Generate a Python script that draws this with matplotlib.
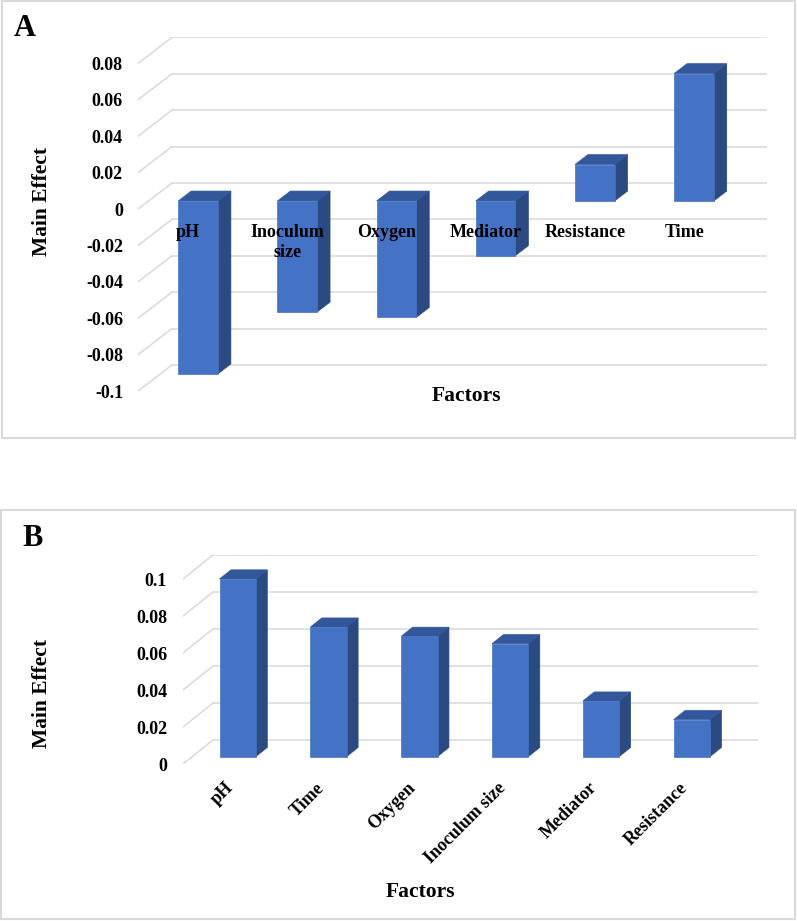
## Main effect plots (A: signed effects, B: absolute effects sorted), drawn as Excel-style 3D columns

import matplotlib.pyplot as plt
from matplotlib.patches import Polygon, Rectangle

plt.rcParams['font.family'] = ['Liberation Serif', 'DejaVu Serif']
plt.rcParams['font.weight'] = 'bold'

## Data
factors_a = ['pH', 'Inoculum\nsize', 'Oxygen', 'Mediator', 'Resistance', 'Time']
effects_a = [-0.095, -0.061, -0.064, -0.030, 0.020, 0.070]
ticks_a = [0.08, 0.06, 0.04, 0.02, 0, -0.02, -0.04, -0.06, -0.08, -0.1]

factors_b = ['pH', 'Time', 'Oxygen', 'Inoculum size', 'Mediator', 'Resistance']
effects_b = [0.096, 0.070, 0.065, 0.061, 0.030, 0.020]
ticks_b = [0.1, 0.08, 0.06, 0.04, 0.02, 0]

FRONT = '#4472C4'
TOP = '#32589B'
SIDE = '#2B4A82'
GRID = '#D9D9D9'

W, H = 797, 921
fig = plt.figure(figsize=(W / 100, H / 100), dpi=100)


def px_axes(x0, y0, x1, y1):
    # axes from pixel box (top-left origin)
    return fig.add_axes([x0 / W, 1 - y1 / H, (x1 - x0) / W, (y1 - y0) / H])


def column_chart(ax, values, ticks, kx, ky, ymin, ymax, pad):
    n = len(values)
    ax.set_xlim(-0.5, n - 0.5 + kx)
    ax.set_ylim(ymin, ymax + ky)
    for s in ax.spines.values():
        s.set_visible(False)
    ax.set_xticks([])
    ax.set_yticks(ticks)
    ax.set_yticklabels([f'{t:g}' for t in ticks], fontsize=13)
    ax.tick_params(axis='y', length=0, pad=pad)

    # back wall and side wall gridlines
    for t in ticks:
        ax.plot([-0.5 + kx, n - 0.5 + kx], [t + ky, t + ky], color=GRID, lw=1.1, zorder=1)
        ax.plot([-0.5, -0.5 + kx], [t, t + ky], color=GRID, lw=1.1, zorder=1)

    # columns sit in the middle of the depth
    f, b, w = 0.31, 0.69, 0.4
    xs = list(range(n))
    ax.bar([x + f * kx for x in xs], values, width=w, bottom=f * ky,
           color=FRONT, zorder=3, edgecolor=FRONT, lw=0.5)
    for x, v in zip(xs, values):
        lo, hi = min(v, 0), max(v, 0)
        xr = x + w / 2
        xl = x - w / 2
        side = [(xr + f * kx, lo + f * ky), (xr + f * kx, hi + f * ky),
                (xr + b * kx, hi + b * ky), (xr + b * kx, lo + b * ky)]
        top = [(xl + f * kx, hi + f * ky), (xr + f * kx, hi + f * ky),
               (xr + b * kx, hi + b * ky), (xl + b * kx, hi + b * ky)]
        ax.add_patch(Polygon(side, closed=True, facecolor=SIDE, edgecolor=SIDE, lw=0.5, zorder=2))
        ax.add_patch(Polygon(top, closed=True, facecolor=TOP, edgecolor=TOP, lw=0.5, zorder=2))


## Panel A
axA = px_axes(138, 37.4, 767, 391)
column_chart(axA, effects_a, ticks_a, 34 / 99.17, 26 / 36.4 * 0.02, -0.1, 0.08, 10.8)
for i, name in enumerate(factors_a):
    axA.annotate(name, xy=(i, 0), xytext=(0.5, -10.5), textcoords='offset points',
                 ha='center', va='top', fontsize=13, zorder=5, linespacing=1.3)

fig.text(42 / W, 1 - 202 / H, 'Main Effect', rotation=90, ha='center', va='center', fontsize=15.5)
fig.text(466 / W, 1 - 396 / H, 'Factors', ha='center', va='center', fontsize=15.5)
fig.text(25 / W, 1 - 28 / H, 'A', ha='center', va='center', fontsize=22)

## Panel B
axB = px_axes(183, 555, 758, 764)
column_chart(axB, effects_b, ticks_b, 30 / 90.83, 24 / 37 * 0.02, 0, 0.1, 11.5)
for i, name in enumerate(factors_b):
    axB.annotate(name, xy=(i, 0), xytext=(-2.5, -11), textcoords='offset points',
                 ha='right', va='top', rotation=45, rotation_mode='anchor', fontsize=13)

fig.text(42 / W, 1 - 693 / H, 'Main Effect', rotation=90, ha='center', va='center', fontsize=15.5)
fig.text(420 / W, 1 - 892 / H, 'Factors', ha='center', va='center', fontsize=15.5)
fig.text(33 / W, 1 - 538 / H, 'B', ha='center', va='center', fontsize=22)

## Panel frames
for (x0, y0, x1, y1) in [(2, 1, 795, 438), (1, 510, 795, 919)]:
    fig.patches.append(Rectangle((x0 / W, 1 - y1 / H), (x1 - x0) / W, (y1 - y0) / H,
                                 transform=fig.transFigure, fill=False,
                                 edgecolor=GRID, lw=1.5))

plt.savefig('out.png', dpi=100)
